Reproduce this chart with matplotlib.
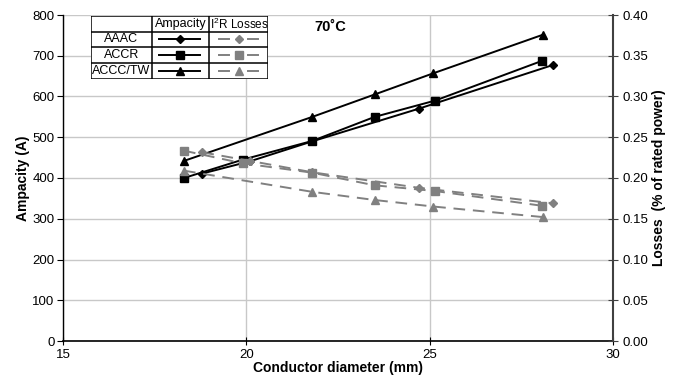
import matplotlib
matplotlib.use('Agg')
import matplotlib.pyplot as plt
from matplotlib.lines import Line2D

plt.rcParams['font.family'] = ['Liberation Sans', 'DejaVu Sans']
plt.rcParams['mathtext.fontset'] = 'custom'
plt.rcParams['mathtext.rm'] = 'Liberation Sans'

# data
aaac_d = [18.8, 20.1, 21.8, 24.7, 28.35]
aaac_amp = [411, 441, 490, 570, 677]
aaac_loss = [0.2315, 0.221, 0.207, 0.188, 0.169]

accr_d = [18.3, 19.9, 21.8, 23.5, 25.15, 28.05]
accr_amp = [400, 445, 491, 550, 590, 687]
accr_loss = [0.2335, 0.218, 0.2065, 0.191, 0.184, 0.166]

accc_d = [18.3, 21.8, 23.5, 25.1, 28.1]
accc_amp = [442, 550, 605, 657, 752]
accc_loss = [0.209, 0.183, 0.173, 0.165, 0.152]

names = ['AAAC', 'ACCR', 'ACCC/TW']
markers = ['D', 's', '^']
msizes = [4.5, 5.5, 6]

W, H = 675, 380
fig = plt.figure(figsize=(W / 100, H / 100), dpi=100)
ax = fig.add_axes([63 / W, 1 - 341 / H, 550 / W, 326 / H])
ax2 = ax.twinx()

gray = '#808080'
series = [(aaac_d, aaac_amp, aaac_loss), (accr_d, accr_amp, accr_loss),
          (accc_d, accc_amp, accc_loss)]
for (d, amp, loss), m, ms in zip(series, markers, msizes):
    ax.plot(d, amp, color='black', lw=1.4, marker=m, ms=ms, zorder=3)
    ax2.plot(d, loss, color=gray, lw=1.4, ls=(0, (6, 4)), marker=m, ms=ms,
             mfc=gray, mec=gray, zorder=2)

ax.set_xlim(15, 30)
ax.set_ylim(0, 800)
ax2.set_ylim(0, 0.4)
ax.set_xticks([15, 20, 25, 30])
ax.set_yticks(range(0, 801, 100))
ax2.set_yticks([i * 0.05 for i in range(9)])
ax2.set_yticklabels([f'{i * 0.05:.2f}' for i in range(9)])

ax.grid(True, color='#c8c8c8', lw=1.0)
ax.set_axisbelow(True)
for s in ['top', 'right']:
    ax.spines[s].set_visible(False)
for s in ['top', 'left', 'bottom']:
    ax2.spines[s].set_visible(False)
ax2.spines['right'].set_color('#404040')
ax2.spines['right'].set_linewidth(1.5)
ax.spines['left'].set_linewidth(1.0)
ax.spines['bottom'].set_linewidth(1.2)

ax.tick_params(axis='y', direction='out', length=4, labelsize=9.5, pad=2)
ax.tick_params(axis='x', direction='inout', length=6, labelsize=9.5, pad=3)
ax2.tick_params(axis='y', direction='inout', length=7, labelsize=9.5, pad=3,
                color='#404040')

ax.set_xlabel('Conductor diameter (mm)', fontsize=10, fontweight='bold',
              labelpad=0)
ax.set_ylabel('Ampacity (A)', fontsize=10, fontweight='bold', labelpad=2)
ax2.set_ylabel('Losses  (% of rated power)', fontsize=10, fontweight='bold',
               labelpad=3)

fig.text(330 / W, 1 - 27 / H, '70˚C', fontsize=10.5, fontweight='bold',
         ha='center', va='center')

# legend table
x0, x1, x2, x3 = 91, 152, 209, 268
rows = [16, 31.5, 47.3, 63, 79]
lax = fig.add_axes([x0 / W, 1 - rows[-1] / H, (x3 - x0) / W,
                    (rows[-1] - rows[0]) / H])
lax.set_xlim(x0, x3)
lax.set_ylim(rows[-1], rows[0])
lax.axis('off')
lax.add_patch(plt.Rectangle((x0, rows[0]), x3 - x0, rows[-1] - rows[0],
                            fc='white', ec='none', zorder=0))
for xv in (x0, x1, x2, x3):
    lax.add_line(Line2D([xv, xv], [rows[0], rows[-1]], color='black', lw=1.1))
for yv in rows:
    lax.add_line(Line2D([x0, x3], [yv, yv], color='black', lw=1.1))
lax.text((x1 + x2) / 2, (rows[0] + rows[1]) / 2 + 0.5, 'Ampacity',
         fontsize=9, ha='center', va='center')
lax.text(x2 + 1.5, (rows[0] + rows[1]) / 2 + 0.5, r'I$^{2}$R Losses',
         fontsize=8.5, ha='left', va='center')
for i, (n, m, ms) in enumerate(zip(names, markers, msizes)):
    yc = (rows[i + 1] + rows[i + 2]) / 2
    lax.text((x0 + x1) / 2, yc, n, fontsize=9, ha='center', va='center')
    lax.plot([159, 200], [yc, yc], color='black', lw=1.4)
    lax.plot([179.5], [yc], color='black', marker=m, ms=ms)
    lax.plot([219, 229], [yc, yc], color=gray, lw=1.4)
    lax.plot([248, 258], [yc, yc], color=gray, lw=1.4)
    lax.plot([238.5], [yc], color=gray, marker=m, ms=ms)

fig.savefig('out.png', dpi=100)
